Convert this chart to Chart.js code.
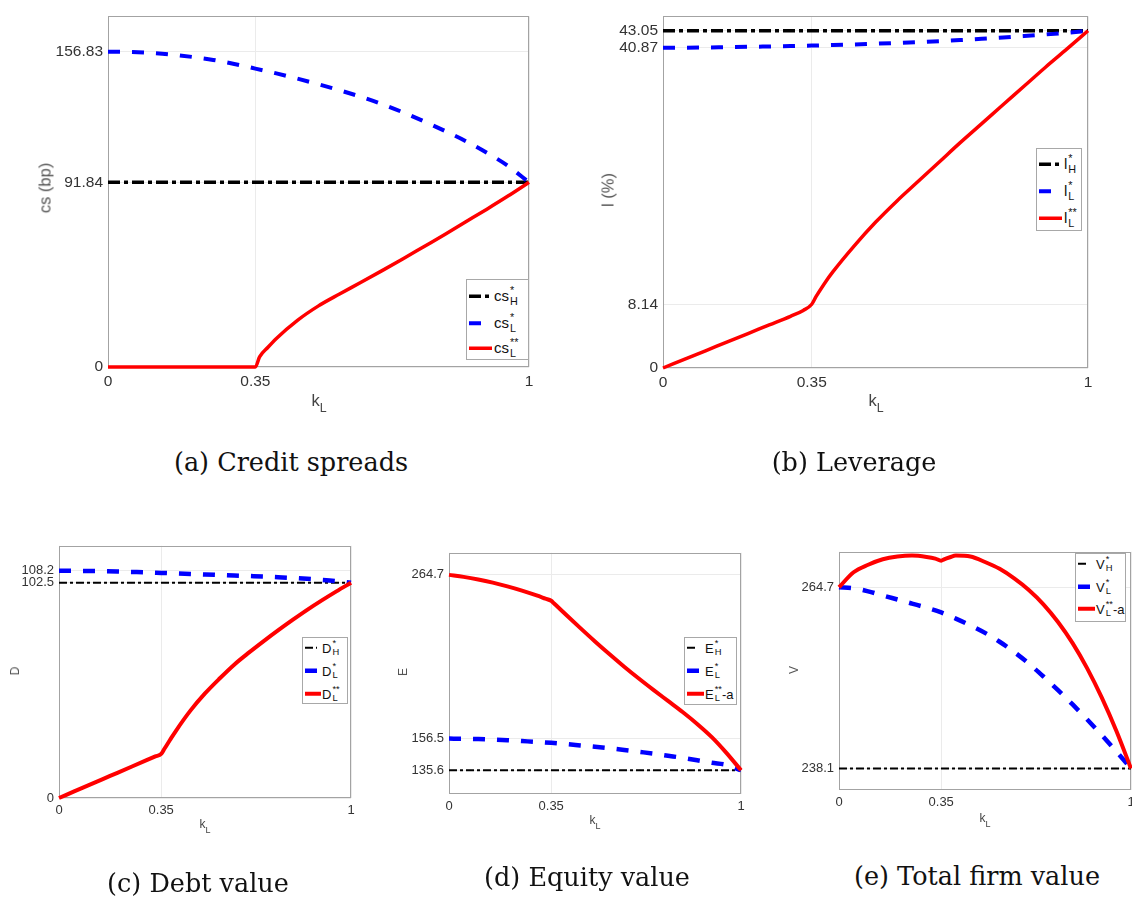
<!DOCTYPE html>
<html>
<head>
<meta charset="utf-8">
<script src="https://cdn.jsdelivr.net/npm/chart.js@4.4.0/dist/chart.umd.min.js"></script>
<style>
  body { margin: 0; background: #fff; width: 1132px; height: 899px; position: relative; overflow: hidden;
         font-family: "Liberation Sans", Arial, sans-serif; }
  canvas { position: absolute; }
  .cap { position: absolute; font-family: "DejaVu Serif", serif; font-size: 25.5px; color: #111;
         white-space: nowrap; transform: translate(-50%, -50%); }
  .ytitle { position: absolute; color: #555; white-space: nowrap; transform: translate(-50%, -50%) rotate(-90deg); }
  .xtitle { position: absolute; color: #444; white-space: nowrap; transform: translate(-50%, -50%); }
  .xtitle sub { font-size: 0.75em; vertical-align: -0.45em; }
  .legend { position: absolute; background: #fff; border: 1px solid #a8a8a8; box-sizing: border-box; color: #111; }
  .legend .row { position: absolute; left: 2px; display: flex; align-items: center; transform: translateY(-50%); line-height: 1; }
  .legend svg { display: block; margin-right: 1px; }
  .legend .st { display: inline-flex; flex-direction: column; font-size: 0.72em; line-height: 1; margin-left: 1px; }
</style>
</head>
<body>
<script>
// x values
const kGrid = [0, 0.05, 0.1, 0.15, 0.2, 0.25, 0.3, 0.35, 0.4, 0.45, 0.5, 0.55, 0.6, 0.65, 0.7, 0.75, 0.8, 0.85, 0.9, 0.95, 1];
const kFine = [0, 0.05, 0.1, 0.15, 0.2, 0.25, 0.3, 0.33, 0.35, 0.36, 0.38, 0.4, 0.45, 0.5, 0.55, 0.6, 0.65, 0.7, 0.75, 0.8, 0.85, 0.9, 0.95, 1];
const kEnds = [0, 1];
const xTickVals = [0, 0.35, 1];
const xTickLabels = ['0', '0.35', '1'];

// (a) credit spreads
const csH = [91.84, 91.84];
const csL = [156.83, 156.7, 156.2, 155.4, 154.2, 152.7, 150.7, 148.4, 146.0, 143.4, 140.6, 137.6, 134.4, 130.8, 126.7, 122.2, 117.4, 112.3, 106.5, 100.0, 91.84];
const csLL = [0, 0, 0, 0, 0, 0, 0, 0, 0, 5.0, 9.8, 14.2, 23.2, 30.4, 36.3, 42.0, 47.8, 53.7, 59.8, 65.9, 72.2, 78.5, 85.0, 91.84];
const csTicks = [0, 91.84, 156.83];
const csTickLabels = ['0', '91.84', '156.83'];

// (b) leverage
const levH = [43.05, 43.05];
const levL = [40.87, 40.89, 40.92, 40.96, 41.0, 41.05, 41.1, 41.16, 41.23, 41.31, 41.4, 41.5, 41.61, 41.73, 41.87, 42.02, 42.19, 42.38, 42.58, 42.8, 43.05];
const levLL = [0, 1.1, 2.2, 3.3, 4.4, 5.5, 6.6, 7.35, 8.14, 9.1, 10.8, 12.3, 15.6, 18.6, 21.3, 23.8, 26.3, 28.8, 31.2, 33.6, 36.0, 38.4, 40.7, 43.05];
const levTicks = [0, 8.14, 40.87, 43.05];
const levTickLabels = ['0', '8.14', '40.87', '43.05'];

// (c) debt value
const debtH = [102.5, 102.5];
const debtL = [108.2, 108.18, 108.1, 108.0, 107.85, 107.65, 107.45, 107.2, 106.95, 106.7, 106.45, 106.2, 105.95, 105.7, 105.45, 105.15, 104.8, 104.4, 103.9, 103.3, 102.5];
const debtLL = [0, 3.0, 6.0, 9.0, 12.0, 15.0, 18.0, 19.8, 21.0, 23.2, 27.6, 31.9, 41.6, 49.8, 56.9, 63.5, 69.2, 74.6, 79.8, 84.8, 89.6, 94.1, 98.4, 102.5];
const debtTicks = [0, 102.5, 108.2];
const debtTickLabels = ['0', '102.5', '108.2'];

// (d) equity value
const eqH = [135.6, 135.6];
const eqL = [156.5, 156.45, 156.2, 155.9, 155.5, 154.9, 154.3, 153.7, 152.9, 152.0, 151.1, 150.1, 149.0, 147.8, 146.6, 145.2, 143.8, 142.2, 140.5, 139.2, 135.6];
const eqLL = [264.7, 263.4, 261.7, 259.6, 257.1, 254.3, 251.1, 249.0, 247.6, 245.8, 242.2, 238.5, 229.5, 220.7, 212.2, 204.0, 196.2, 188.7, 181.4, 174.1, 166.2, 157.5, 147.1, 135.6];
const eqTicks = [135.6, 156.5, 264.7];
const eqTickLabels = ['135.6', '156.5', '264.7'];

// (e) total firm value
const firmH = [238.1, 238.1];
const firmL = [264.7, 264.55, 264.1, 263.5, 262.9, 262.3, 261.7, 261.0, 260.1, 259.1, 258.0, 256.7, 255.2, 253.5, 251.6, 249.6, 247.5, 245.3, 243.0, 240.6, 238.1];
const firmLL = [264.7, 266.9, 268.0, 268.8, 269.2, 269.35, 269.15, 268.9, 268.6, 268.8, 269.1, 269.35, 269.2, 268.4, 267.4, 266.0, 264.3, 262.2, 259.6, 256.5, 252.8, 248.5, 243.6, 238.1];
const firmTicks = [238.1, 264.7];
const firmTickLabels = ['238.1', '264.7'];

function toXY(xs, ys) {
    return xs.map((x, i) => ({ x: x, y: ys[i] }));
}

// grey box round the plot area
const framePlugin = {
    id: 'frame',
    beforeDatasetsDraw(chart) {
        const ctx = chart.ctx, a = chart.chartArea;
        ctx.save();
        ctx.strokeStyle = '#a3a3a3';
        ctx.lineWidth = 1;
        ctx.strokeRect(Math.round(a.left) + 0.5, Math.round(a.top) + 0.5,
                       Math.round(a.right - a.left) - 1, Math.round(a.bottom - a.top) - 1);
        ctx.restore();
    }
};

function lineStyles(big) {
    return {
        H: { color: '#000000', width: big ? 3.5 : 2, dash: big ? [12, 4, 4, 4] : [8, 3, 3, 3] },
        L: { color: '#0000ff', width: big ? 4 : 4.5, dash: [12, 12] },
        LL: { color: '#ff0000', width: big ? 3.5 : 4, dash: [] }
    };
}

function makePanel(p) {
    const padL = 70, padT = 10, padR = 10, padB = 28;
    const w = p.plot.r - p.plot.l + padL + padR;
    const h = p.plot.b - p.plot.t + padT + padB;
    const canvas = document.createElement('canvas');
    canvas.width = w;
    canvas.height = h;
    canvas.style.left = (p.plot.l - padL) + 'px';
    canvas.style.top = (p.plot.t - padT) + 'px';
    canvas.style.width = w + 'px';
    canvas.style.height = h + 'px';
    document.body.appendChild(canvas);

    const st = lineStyles(p.big);
    const tickFont = { family: '"Liberation Sans", Arial, sans-serif', size: p.fs };
    const ds = (xs, ys, s, order) => ({
        data: toXY(xs, ys), borderColor: s.color, borderWidth: s.width, borderDash: s.dash,
        pointRadius: 0, cubicInterpolationMode: 'monotone', fill: false, clip: false, order: order,
        borderCapStyle: 'butt', borderJoinStyle: 'round'
    });

    new Chart(canvas.getContext('2d'), {
        type: 'line',
        data: {
            datasets: [
                ds(kEnds, p.hi, st.H, 3),
                ds(kGrid, p.lo, st.L, 2),
                ds(kFine, p.lo2, st.LL, 1)
            ]
        },
        options: {
            responsive: false,
            animation: false,
            devicePixelRatio: 1,
            layout: { padding: { top: padT, right: padR, left: 0, bottom: 0 } },
            plugins: { legend: { display: false }, tooltip: { enabled: false } },
            scales: {
                x: {
                    type: 'linear', min: 0, max: 1,
                    afterFit: (s) => { s.height = padB; },
                    afterBuildTicks: (s) => { s.ticks = xTickVals.map(v => ({ value: v })); },
                    ticks: {
                        autoSkip: false, maxRotation: 0, padding: 5, color: '#333', font: tickFont,
                        callback: (v, i) => xTickLabels[i]
                    },
                    grid: { color: '#ebebeb', drawTicks: false },
                    border: { display: false }
                },
                y: {
                    type: 'linear', min: p.yMin, max: p.yMax,
                    afterFit: (s) => { s.width = padL; },
                    afterBuildTicks: (s) => { s.ticks = p.ticks.map(v => ({ value: v })); },
                    ticks: {
                        autoSkip: false, padding: 5, color: '#333', font: tickFont,
                        callback: (v, i) => p.tickLabels[i]
                    },
                    grid: { color: '#ebebeb', drawTicks: false },
                    border: { display: false }
                }
            }
        },
        plugins: [framePlugin]
    });

    // axis titles
    const yt = document.createElement('div');
    yt.className = 'ytitle';
    yt.textContent = p.yTitle;
    Object.assign(yt.style, { left: p.yTitlePos[0] + 'px', top: p.yTitlePos[1] + 'px', fontSize: p.titleFs + 'px' });
    document.body.appendChild(yt);

    const xt = document.createElement('div');
    xt.className = 'xtitle';
    xt.innerHTML = 'k<sub>L</sub>';
    Object.assign(xt.style, { left: p.xTitlePos[0] + 'px', top: p.xTitlePos[1] + 'px', fontSize: p.titleFs + 'px' });
    document.body.appendChild(xt);

    // caption
    const cap = document.createElement('div');
    cap.className = 'cap';
    cap.textContent = p.caption;
    Object.assign(cap.style, { left: p.capPos[0] + 'px', top: p.capPos[1] + 'px' });
    document.body.appendChild(cap);

    // legend
    const L = p.legend;
    const box = document.createElement('div');
    box.className = 'legend';
    Object.assign(box.style, {
        left: L.l + 'px', top: L.t + 'px', width: (L.r - L.l) + 'px', height: (L.b - L.t) + 'px', fontSize: L.fs + 'px'
    });
    const keys = ['H', 'L', 'LL'];
    p.legendItems.forEach((it, i) => {
        const s = st[keys[i]];
        const row = document.createElement('div');
        row.className = 'row';
        row.style.top = (L.rows[i] - L.t) + 'px';
        const sw = L.sw[i];
        row.innerHTML =
            '<svg width="' + L.swMax + '" height="8"><line x1="0" y1="4" x2="' + sw + '" y2="4" stroke="' + s.color +
            '" stroke-width="' + s.width + '" stroke-dasharray="' + (s.dash.length ? s.dash.join(',') : 'none') + '"/></svg>' +
            '<span>' + it.base + '</span><span class="st"><span>' + it.sup + '</span><span>' + it.sub + '</span></span>' +
            '<span>' + (it.tail || '') + '</span>';
        box.appendChild(row);
    });
    document.body.appendChild(box);
}

const panels = [
    {
        caption: '(a) Credit spreads', capPos: [291, 462], big: true, fs: 15.5, titleFs: 16.5,
        plot: { l: 108, t: 12, r: 529, b: 367 }, yMin: 0, yMax: 174.4,
        ticks: csTicks, tickLabels: csTickLabels, hi: csH, lo: csL, lo2: csLL,
        yTitle: 'cs (bp)', yTitlePos: [45, 188], xTitlePos: [319, 403],
        legend: { l: 466, t: 279, r: 529, b: 360, fs: 15, rows: [295, 322, 347], sw: [22, 12, 23], swMax: 24 },
        legendItems: [{ base: 'cs', sup: '*', sub: 'H' }, { base: 'cs', sup: '*', sub: 'L' }, { base: 'cs', sup: '**', sub: 'L' }]
    },
    {
        caption: '(b) Leverage', capPos: [854, 462], big: true, fs: 15.5, titleFs: 16.5,
        plot: { l: 663, t: 12, r: 1088, b: 368 }, yMin: 0, yMax: 44.9,
        ticks: levTicks, tickLabels: levTickLabels, hi: levH, lo: levL, lo2: levLL,
        yTitle: 'l (%)', yTitlePos: [608, 190], xTitlePos: [876, 403],
        legend: { l: 1036, t: 148, r: 1082, b: 231, fs: 15, rows: [163, 190, 217], sw: [23, 12, 23], swMax: 24 },
        legendItems: [{ base: 'l', sup: '*', sub: 'H' }, { base: 'l', sup: '*', sub: 'L' }, { base: 'l', sup: '**', sub: 'L' }]
    },
    {
        caption: '(c) Debt value', capPos: [198, 883], big: false, fs: 13, titleFs: 12,
        plot: { l: 59, t: 543, r: 351, b: 798 }, yMin: 0, yMax: 120.1,
        ticks: debtTicks, tickLabels: debtTickLabels, hi: debtH, lo: debtL, lo2: debtLL,
        yTitle: 'D', yTitlePos: [15, 671], xTitlePos: [205, 826],
        legend: { l: 302, t: 637, r: 348, b: 704, fs: 13, rows: [647, 670, 693], sw: [12, 13, 16], swMax: 16 },
        legendItems: [{ base: 'D', sup: '*', sub: 'H' }, { base: 'D', sup: '*', sub: 'L' }, { base: 'D', sup: '**', sub: 'L' }]
    },
    {
        caption: '(d) Equity value', capPos: [587, 877], big: false, fs: 13, titleFs: 12,
        plot: { l: 449, t: 550, r: 741, b: 794 }, yMin: 119.9, yMax: 279.3,
        ticks: eqTicks, tickLabels: eqTickLabels, hi: eqH, lo: eqL, lo2: eqLL,
        yTitle: 'E', yTitlePos: [403, 672], xTitlePos: [595, 822],
        legend: { l: 684, t: 637, r: 737, b: 705, fs: 13, rows: [647, 670, 693], sw: [10, 14, 17], swMax: 17 },
        legendItems: [{ base: 'E', sup: '*', sub: 'H' }, { base: 'E', sup: '*', sub: 'L' }, { base: 'E', sup: '**', sub: 'L', tail: '-a' }]
    },
    {
        caption: '(e) Total firm value', capPos: [977, 876], big: false, fs: 13, titleFs: 12,
        plot: { l: 839, t: 549, r: 1131, b: 790 }, yMin: 234.95, yMax: 269.9,
        ticks: firmTicks, tickLabels: firmTickLabels, hi: firmH, lo: firmL, lo2: firmLL,
        yTitle: 'V', yTitlePos: [794, 670], xTitlePos: [985, 820],
        legend: { l: 1075, t: 553, r: 1126, b: 622, fs: 13, rows: [563, 586, 608], sw: [10, 14, 17], swMax: 17 },
        legendItems: [{ base: 'V', sup: '*', sub: 'H' }, { base: 'V', sup: '*', sub: 'L' }, { base: 'V', sup: '**', sub: 'L', tail: '-a' }]
    }
];

panels.forEach(makePanel);
</script>
</body>
</html>
